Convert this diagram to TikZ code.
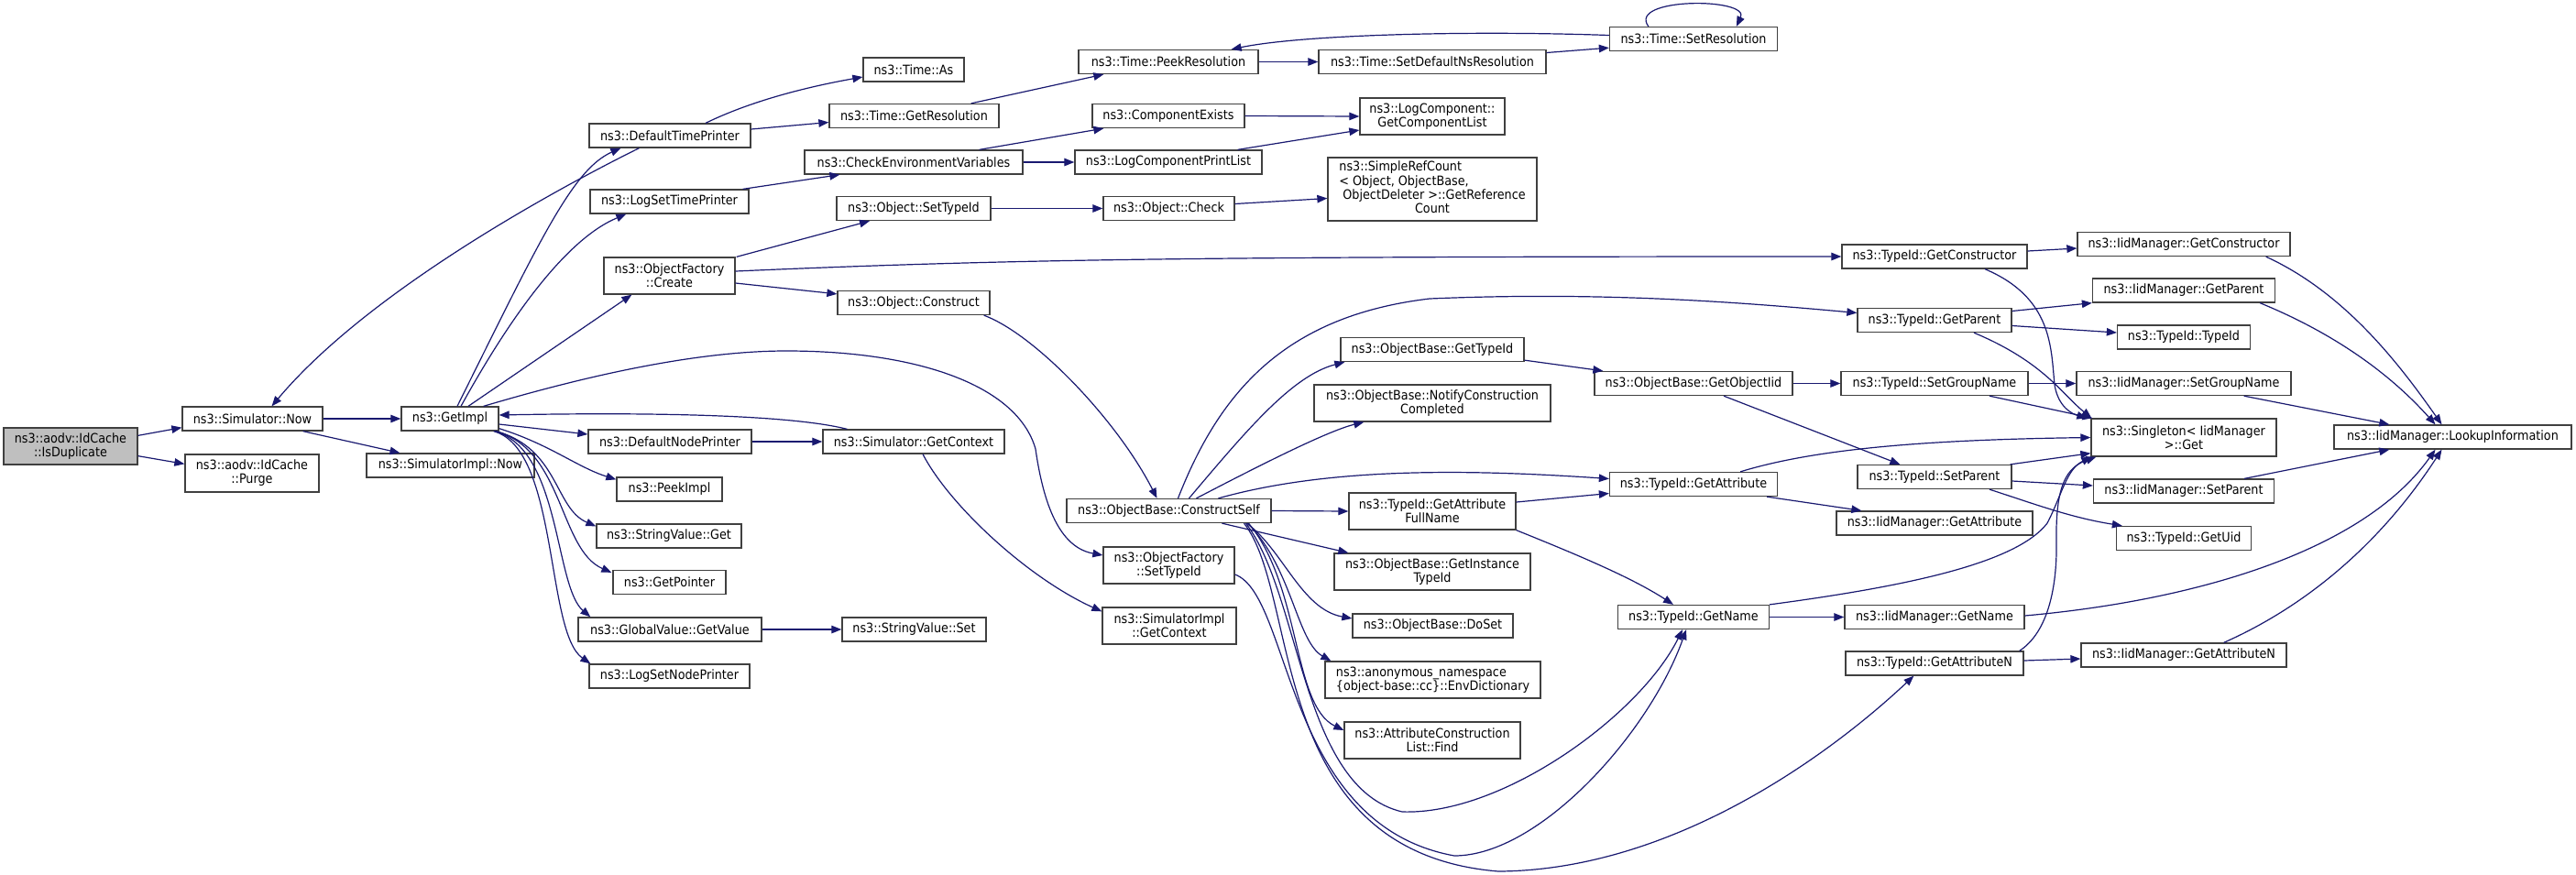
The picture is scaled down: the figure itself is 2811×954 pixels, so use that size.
\documentclass[tikz,border=0pt]{standalone}
\usepackage{fontspec}
\setmainfont{DejaVu Sans Condensed}
\usetikzlibrary{arrows.meta,calc}
\definecolor{edgecol}{HTML}{191970}
\definecolor{boxcol}{HTML}{404040}
\definecolor{mainfill}{HTML}{BFBFBF}
\newcommand{\fsz}{\fontsize{14.2}{15}\selectfont}
\begin{document}
\begin{tikzpicture}[x=1pt,y=-1pt,
  box/.style={draw=boxcol,line width=1.3pt,fill=white,inner sep=0pt,font=\fsz,align=center,minimum height=26pt},
  two/.style={minimum height=40pt},
  cn/.style={draw=edgecol,color=edgecol,line width=1.2pt,-{Triangle[length=11pt,width=8.5pt]}}]
\useasboundingbox[fill=white] (0,0) rectangle (2811,954);
% column 1-2
\node[box,fill=mainfill,two,minimum width=146pt] (dup) at (77,487) {ns3::aodv::IdCache\\::IsDuplicate};
\node[box,minimum width=153pt] (now) at (275.5,457) {ns3::Simulator::Now};
\node[box,two,minimum width=146pt,minimum height=41pt] (purge) at (275,516.5) {ns3::aodv::IdCache\\::Purge};
\node[box,minimum width=106pt] (getimpl) at (491,457) {ns3::GetImpl};
\node[box,minimum width=183pt] (simnow) at (491.5,508) {ns3::SimulatorImpl::Now};
% column 3
\node[box,minimum width=176pt] (dtp) at (731,148) {ns3::DefaultTimePrinter};
\node[box,minimum width=173pt] (lstp) at (730.5,220) {ns3::LogSetTimePrinter};
\node[box,two,minimum width=143pt] (create) at (730.5,301) {ns3::ObjectFactory\\::Create};
\node[box,minimum width=178pt] (dnp) at (731,482) {ns3::DefaultNodePrinter};
\node[box,minimum width=115pt] (peek) at (730.5,534) {ns3::PeekImpl};
\node[box,minimum width=158pt] (svget) at (730,585) {ns3::StringValue::Get};
\node[box,minimum width=123pt] (getptr) at (730.5,635.5) {ns3::GetPointer};
\node[box,minimum width=200pt] (gvget) at (731,687) {ns3::GlobalValue::GetValue};
\node[box,minimum width=175pt] (lsnp) at (730.5,738) {ns3::LogSetNodePrinter};
% column 4
\node[box,minimum width=110pt] (timeas) at (997,76) {ns3::Time::As};
\node[box,minimum width=185pt] (getres) at (997.5,126.5) {ns3::Time::GetResolution};
\node[box,minimum width=238pt] (checkenv) at (997,177) {ns3::CheckEnvironmentVariables};
\node[box,minimum width=168pt] (settypeid) at (997,227.5) {ns3::Object::SetTypeId};
\node[box,minimum width=166pt] (construct) at (997,330.5) {ns3::Object::Construct};
\node[box,minimum width=198pt] (getcontext) at (997,482) {ns3::Simulator::GetContext};
\node[box,minimum width=157pt] (svset) at (997.5,687) {ns3::StringValue::Set};
% column 5
\node[box,minimum width=196pt] (peekres) at (1275,67.5) {ns3::Time::PeekResolution};
\node[box,minimum width=166pt] (compexists) at (1275,126.5) {ns3::ComponentExists};
\node[box,minimum width=204pt] (lcpl) at (1275,177) {ns3::LogComponentPrintList};
\node[box,minimum width=143pt] (check) at (1275.5,227.5) {ns3::Object::Check};
\node[box,minimum width=223pt] (cself) at (1275.5,557.5) {ns3::ObjectBase::ConstructSelf};
\node[box,two,minimum width=143pt] (ofsettype) at (1275.5,617) {ns3::ObjectFactory\\::SetTypeId};
\node[box,two,minimum width=146pt] (siggc) at (1276,683) {ns3::SimulatorImpl\\::GetContext};
% column 6
\node[box,minimum width=248pt] (setdefns) at (1563,67.5) {ns3::Time::SetDefaultNsResolution};
\node[box,two,minimum width=158pt] (getcomplist) at (1563,127) {ns3::LogComponent::\\GetComponentList};
\node[box,minimum width=228pt,minimum height=69pt] (simpleref) at (1563,206.5) {\begin{tabular}{@{}l@{}}ns3::SimpleRefCount\\{< Object, ObjectBase,}\\\hspace*{4pt}ObjectDeleter >::GetReference\\\multicolumn{1}{@{}c@{}}{Count}\end{tabular}};
\node[box,minimum width=200pt] (obgettype) at (1563,381.5) {ns3::ObjectBase::GetTypeId};
\node[box,two,minimum width=258pt] (notify) at (1563,440) {ns3::ObjectBase::NotifyConstruction\\Completed};
\node[box,two,minimum width=182pt] (gafull) at (1563,558) {ns3::TypeId::GetAttribute\\FullName};
\node[box,two,minimum width=214pt] (getinst) at (1563,624) {ns3::ObjectBase::GetInstance\\TypeId};
\node[box,minimum width=175pt] (doset) at (1563.5,683) {ns3::ObjectBase::DoSet};
\node[box,two,minimum width=235pt,align=left] (anon) at (1563.5,742) {ns3::anonymous\_namespace\\\{object-base::cc\}::EnvDictionary};
\node[box,two,minimum width=192pt] (find) at (1563,808) {ns3::AttributeConstruction\\List::Find};
% column 7
\node[box,minimum width=183pt] (setres) at (1848,42.5) {ns3::Time::SetResolution};
\node[box,minimum width=216pt] (getoiid) at (1848,418.5) {ns3::ObjectBase::GetObjectIid};
\node[box,minimum width=183pt] (getattr) at (1848,528.5) {ns3::TypeId::GetAttribute};
\node[box,minimum width=165pt] (getname) at (1848,673.5) {ns3::TypeId::GetName};
% column 8
\node[box,minimum width=202pt] (getctor) at (2111,280) {ns3::TypeId::GetConstructor};
\node[box,minimum width=168pt] (getparent) at (2111,349.5) {ns3::TypeId::GetParent};
\node[box,minimum width=204pt] (setgroup) at (2111,418.5) {ns3::TypeId::SetGroupName};
\node[box,minimum width=168pt] (setparent) at (2111,520.5) {ns3::TypeId::SetParent};
\node[box,minimum width=214pt] (iidgetattr) at (2111,571) {ns3::IidManager::GetAttribute};
\node[box,minimum width=196pt] (iidgetname) at (2111,673.5) {ns3::IidManager::GetName};
\node[box,minimum width=194pt] (getattrn) at (2111,724) {ns3::TypeId::GetAttributeN};
% column 9
\node[box,minimum width=232pt] (iidgetctor) at (2383,266.5) {ns3::IidManager::GetConstructor};
\node[box,minimum width=199pt] (iidgetparent) at (2383,317) {ns3::IidManager::GetParent};
\node[box,minimum width=145pt] (typeidtypeid) at (2383,368) {ns3::TypeId::TypeId};
\node[box,minimum width=234pt] (iidsetgroup) at (2383,418.5) {ns3::IidManager::SetGroupName};
\node[box,minimum width=202pt,minimum height=41pt] (singleton) at (2383,477.5) {ns3::Singleton< IidManager\\>::Get};
\node[box,minimum width=197pt] (iidsetparent) at (2383,536) {ns3::IidManager::SetParent};
\node[box,minimum width=147pt] (getuid) at (2383,587.5) {ns3::TypeId::GetUid};
\node[box,minimum width=224pt] (iidgetattrn) at (2383,715) {ns3::IidManager::GetAttributeN};
% column 10
\node[box,minimum width=259pt] (lookup) at (2676.5,477) {ns3::IidManager::LookupInformation};

% ---- connectors ----
\draw[cn] ($(dup.north east)+(0,9)$) -- ($(now.south west)+(0,-4)$);
\draw[cn] ($(dup.south east)+(0,-10)$) -- ($(purge.north west)+(0,11)$);
\draw[cn] (now.east) -- (getimpl.west);
\draw[cn] ($(now.south east)+(-22,0)$) -- ($(simnow.north)+(-55,0)$);
\draw[cn] ($(getimpl.north)+(8,0)$) .. controls (590,260) and (625,185) .. ($(dtp.south west)+(35,0)$);
\draw[cn] ($(dtp.south west)+(55,0)$) .. controls (600,210) and (400,320) .. ($(now.north)+(21,0)$);
\draw[cn] ($(getimpl.north)+(12,0)$) .. controls (560,340) and (620,260) .. ($(lstp.south west)+(40,0)$);
\draw[cn] ($(getimpl.north)+(20,0)$) -- ($(create.south west)+(31,0)$);
\draw[cn] ($(getimpl.north east)+(-17,0)$) .. controls (640,410) and (760,383) .. (858,383) .. controls (1000,383) and (1110,420) .. (1130,490) .. controls (1140,560) and (1160,598) .. ($(ofsettype.west)+(0,-11)$);
\draw[cn] ($(getimpl.east)+(0,6)$) -- ($(dnp.west)+(0,-8)$);
\draw[cn] ($(getimpl.south east)+(0,-3)$) .. controls (600,485) and (630,510) .. ($(peek.north west)+(0,3)$);
\draw[cn] ($(getimpl.south east)+(-3,0)$) .. controls (610,490) and (605,555) .. ($(svget.north west)+(0,3)$);
\draw[cn] ($(getimpl.south east)+(-4,0)$) .. controls (615,490) and (610,600) .. ($(getptr.north west)+(-1,3)$);
\draw[cn] ($(getimpl.south east)+(-5,0)$) .. controls (612,490) and (605,640) .. ($(gvget.north west)+(14,0)$);
\draw[cn] ($(getimpl.south east)+(-6,0)$) .. controls (610,490) and (595,690) .. ($(lsnp.north west)+(2,0)$);
\draw[cn] ($(dtp.north)+(39,0)$) .. controls (820,110) and (880,95) .. ($(timeas.west)+(0,8)$);
\draw[cn] ($(dtp.east)+(0,-7)$) -- ($(getres.west)+(0,7)$);
\draw[cn] ($(lstp.north east)+(-7,0)$) -- ($(checkenv.south west)+(39,0)$);
\draw[cn] ($(create.north east)+(1,0)$) -- ($(settypeid.south)+(-48,0)$);
\draw[cn] ($(create.east)+(0,-5)$) .. controls (1100,283) and (1300,280) .. (getctor.west);
\draw[cn] ($(create.east)+(0,8)$) -- ($(construct.north west)+(0,4)$);
\draw[cn] ($(getres.north east)+(-31,0)$) -- ($(peekres.south west)+(28,0)$);
\draw[cn] ($(checkenv.north east)+(-48,0)$) -- ($(compexists.south west)+(13,0)$);
\draw[cn] (checkenv.east) -- (lcpl.west);
\draw[cn] (settypeid.east) -- (check.west);
\draw[cn] ($(construct.south east)+(-7,0)$) .. controls (1130,365) and (1220,460) .. ($(cself.north)+(-13,0)$);
\draw[cn] ($(getcontext.north west)+(27,0)$) .. controls (860,452) and (700,450) .. ($(getimpl.east)+(0,-4)$);
\draw[cn] (dnp.east) -- (getcontext.west);
\draw[cn] ($(getcontext.south)+(10,0)$) .. controls (1035,550) and (1120,630) .. ($(siggc.north west)+(0,5)$);
\draw[cn] (gvget.east) -- (svset.west);
\draw[cn] (peekres.east) -- (setdefns.west);
\draw[cn] ($(setdefns.east)+(0,-10)$) -- ($(setres.south west)+(0,-4)$);
\draw[cn] ($(setres.west)+(0,-4)$) .. controls (1600,33) and (1420,38) .. ($(peekres.north east)+(-30,0)$);
\draw[cn] ($(setres.north west)+(43,0)$) .. controls (1775,-3) and (1910,-3) .. ($(setres.north west)+(139,0)$);
\draw[cn] (compexists.east) -- (getcomplist.west);
\draw[cn] ($(lcpl.north east)+(-27,0)$) -- ($(getcomplist.west)+(0,15)$);
\draw[cn] ($(check.east)+(0,-5)$) -- ($(simpleref.west)+(0,10)$);
\draw[cn] ($(cself.north)+(10,0)$) .. controls (1330,430) and (1400,345) .. (1560,326) .. controls (1750,318) and (1900,330) .. ($(getparent.west)+(0,-8)$);
\draw[cn] ($(cself.north)+(22,0)$) .. controls (1360,470) and (1410,410) .. ($(obgettype.south west)+(5,0)$);
\draw[cn] ($(cself.north)+(30,0)$) .. controls (1380,505) and (1450,470) .. ($(notify.south west)+(55,0)$);
\draw[cn] ($(cself.north)+(54,0)$) .. controls (1450,510) and (1600,512) .. ($(getattr.west)+(0,-6)$);
\draw[cn] (cself.east) -- (gafull.west);
\draw[cn] ($(cself.south)+(58,0)$) -- ($(getinst.north west)+(16,0)$);
\draw[cn] ($(cself.south)+(85,0)$) .. controls (1400,600) and (1420,665) .. ($(doset.west)+(0,-8)$);
\draw[cn] ($(cself.south)+(86,0)$) .. controls (1410,620) and (1415,700) .. ($(anon.north west)+(7,0)$);
\draw[cn] ($(cself.south)+(87,0)$) .. controls (1420,640) and (1410,770) .. ($(find.west)+(0,-11)$);
\draw[cn] ($(cself.south)+(84,0)$) .. controls (1420,650) and (1420,860) .. (1530,886) .. controls (1640,890) and (1790,780) .. ($(getname.south)+(-12,0)$);
\draw[cn] ($(cself.south)+(82,0)$) .. controls (1420,650) and (1380,930) .. (1635,951) .. controls (1820,950) and (1990,830) .. ($(getattrn.south west)+(75,0)$);
\draw[cn] ($(ofsettype.east)+(0,10)$) .. controls (1410,650) and (1400,900) .. (1587,934) .. controls (1680,934) and (1800,800) .. ($(getname.south)+(-8,0)$);
\draw[cn] (getoiid.east) -- (setgroup.west);
\draw[cn] ($(getoiid.south)+(33,0)$) -- ($(setparent.north west)+(47,0)$);
\draw[cn] ($(obgettype.south east)+(0,-2)$) -- ($(getoiid.north west)+(10,0)$);
\draw[cn] ($(gafull.east)+(0,-10)$) -- ($(getattr.west)+(0,10)$);
\draw[cn] (gafull.south east) .. controls (1720,605) and (1780,630) .. ($(getname.north)+(-22,0)$);
\draw[cn] ($(getattr.north east)+(-41,0)$) .. controls (1980,490) and (2100,480) .. (singleton.west);
\draw[cn] ($(getattr.south east)+(-12,0)$) -- ($(iidgetattr.north west)+(28,0)$);
\draw[cn] (getname.east) -- (iidgetname.west);
\draw[cn] (getname.north east) .. controls (2080,640) and (2200,615) .. (2234,571) .. controls (2250,540) and (2255,512) .. ($(singleton.south west)+(1,0)$);
\draw[cn] ($(getctor.east)+(0,-6)$) -- ($(iidgetctor.west)+(0,4.5)$);
\draw[cn] ($(getctor.south)+(55,0)$) .. controls (2240,325) and (2238,380) .. (2242,420) .. controls (2246,445) and (2262,452) .. ($(singleton.north west)+(-4,0)$);
\draw[cn] ($(getparent.east)+(0,-10)$) -- (iidgetparent.south west);
\draw[cn] ($(getparent.east)+(0,6)$) -- ($(typeidtypeid.west)+(0,-5)$);
\draw[cn] ($(getparent.south)+(43,0)$) .. controls (2230,395) and (2250,430) .. ($(singleton.north west)+(1,0)$);
\draw[cn] (setgroup.east) -- (iidsetgroup.west);
\draw[cn] ($(setgroup.south)+(60,0)$) -- ($(singleton.north west)+(2,0)$);
\draw[cn] ($(setparent.north east)+(-2,0)$) -- ($(singleton.south west)+(0,-4)$);
\draw[cn] ($(setparent.east)+(0,4.5)$) -- ($(iidsetparent.west)+(0,-6)$);
\draw[cn] ($(setparent.south)+(60,0)$) .. controls (2220,550) and (2260,565) .. ($(getuid.north west)+(7,0)$);
\draw[cn] ($(getattrn.east)+(0,-3)$) -- ($(iidgetattrn.west)+(0,4)$);
\draw[cn] ($(getattrn.north east)+(-5,0)$) .. controls (2235,690) and (2245,640) .. (2244,590) .. controls (2243,530) and (2255,510) .. ($(singleton.south west)+(6,0)$);
\draw[cn] ($(iidgetctor.south east)+(-27,0)$) .. controls (2560,320) and (2620,400) .. ($(lookup.north)+(-12,0)$);
\draw[cn] ($(iidgetparent.south east)+(-17,0)$) .. controls (2550,365) and (2610,410) .. ($(lookup.north)+(-19,0)$);
\draw[cn] ($(iidsetgroup.south east)+(-52,0)$) -- ($(lookup.north west)+(61,0)$);
\draw[cn] ($(iidsetparent.north east)+(-33,0)$) -- ($(lookup.south west)+(61,0)$);
\draw[cn] ($(iidgetname.east)+(0,-1.5)$) .. controls (2400,655) and (2580,600) .. ($(lookup.south)+(-19,0)$);
\draw[cn] ($(iidgetattrn.north east)+(-69,0)$) .. controls (2520,660) and (2600,590) .. ($(lookup.south)+(-12,0)$);
\end{tikzpicture}
\end{document}
